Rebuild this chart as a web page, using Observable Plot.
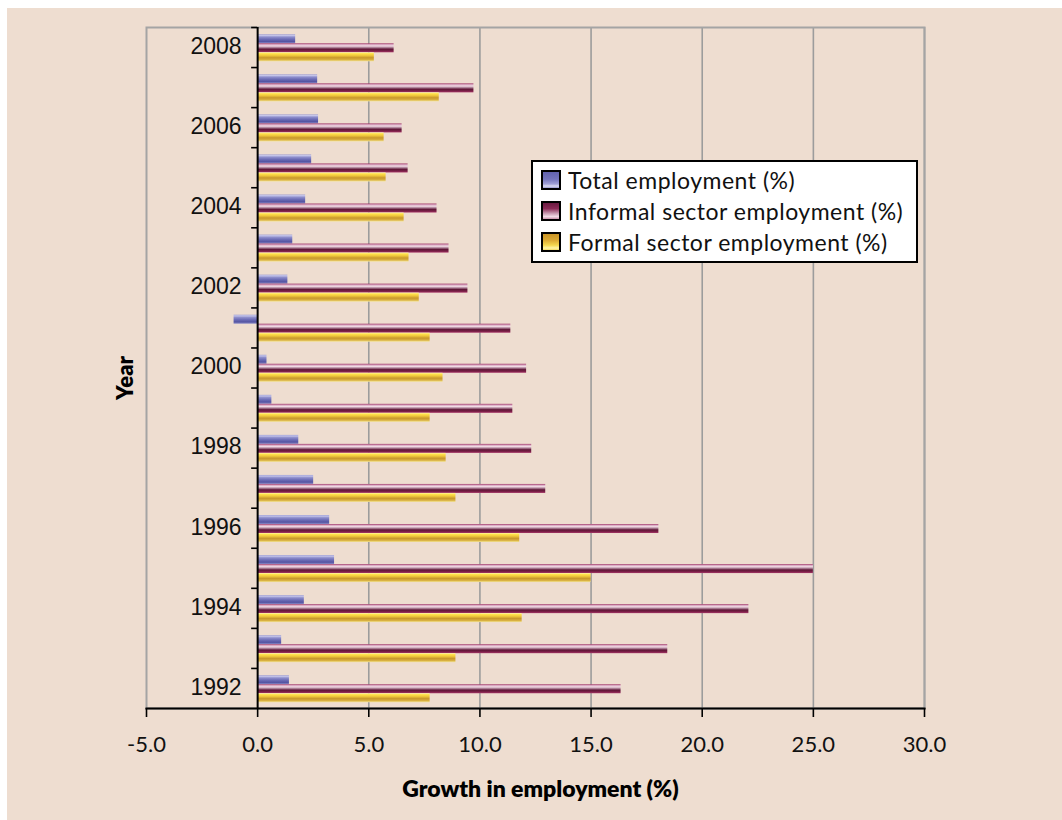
<!DOCTYPE html>
<html>
<head>
<meta charset="utf-8">
<script src="https://cdn.jsdelivr.net/npm/d3@7"></script>
<script src="https://cdn.jsdelivr.net/npm/@observablehq/plot@0.6"></script>
<style>
  body { margin: 0; background: #ffffff; }
  #wrap { position: relative; width: 1062px; height: 820px; overflow: hidden; background: #ffffff; }
  #bg { position: absolute; left: 7px; top: 8px; right: 0; bottom: 0; background: #EEDDD0; }
  #chart { position: absolute; left: 0; top: 0; }
  #legend { position: absolute; left: 531px; top: 160px; width: 383px; height: 99px; background: #ffffff; border: 2px solid #000; }
  .item { position: absolute; left: 8px; height: 26px; display: flex; align-items: center; font-family: Lato, "Open Sans", sans-serif; font-size: 23px; color: #111; letter-spacing: 0.5px; white-space: nowrap; }
  .sw { width: 16px; height: 16px; border: 2px solid #000; margin-right: 7px; flex: none; }
</style>
</head>
<body>
<div id="wrap">
  <div id="bg"></div>
  <div id="chart"></div>
  <div id="legend"></div>
</div>
<script>
// ---- Data ----
const years = [1992, 1993, 1994, 1995, 1996, 1997, 1998, 1999, 2000, 2001, 2002, 2003, 2004, 2005, 2006, 2007, 2008];
const totalEmployment    = [1.43, 1.08, 2.10, 3.46, 3.24, 2.52, 1.85, 0.64, 0.42, -1.06, 1.36, 1.58, 2.16, 2.43, 2.74, 2.70, 1.71];
const informalEmployment = [16.35, 18.45, 22.10, 25.00, 18.05, 12.96, 12.33, 11.48, 12.10, 11.39, 9.46, 8.61, 8.07, 6.77, 6.50, 9.73, 6.14];
const formalEmployment   = [7.76, 8.92, 11.90, 15.00, 11.79, 8.92, 8.48, 7.76, 8.34, 7.76, 7.27, 6.81, 6.59, 5.78, 5.69, 8.17, 5.25];
const seriesNames = ["Total employment (%)", "Informal sector employment (%)", "Formal sector employment (%)"];
const xTicks = [-5, 0, 5, 10, 15, 20, 25, 30];
const xTitle = "Growth in employment (%)";
const yTitle = "Year";

// ---- Build tables ----
const toRows = vals => years.map((yr, i) => ({year: yr, value: vals[i]}));
const totalRows = toRows(totalEmployment);
const informalRows = toRows(informalEmployment);
const formalRows = toRows(formalEmployment);
const labelYears = years.filter(y => y % 2 === 0);
const boundaries = years.map(y => y + 0.5);

const band = 681 / years.length;
function barOpts(top, fillId) {
  return {
    x1: 0, x2: "value",
    y1: d => d.year - 0.5, y2: d => d.year + 0.5,
    insetTop: top, insetBottom: band - top - 9,
    fill: `url(#${fillId})`
  };
}

const svg = Plot.plot({
  width: 1062,
  height: 820,
  marginLeft: 146,
  marginRight: 138,
  marginTop: 27,
  marginBottom: 112,
  style: {background: "transparent", overflow: "visible"},
  x: {domain: [-5, 30], axis: null},
  y: {domain: [years[0] - 0.5, years[years.length - 1] + 0.5], axis: null},
  marks: [
    Plot.gridX(xTicks.filter(t => t > 0), {stroke: "#9c9c9c", strokeOpacity: 1, strokeWidth: 1.6}),
    Plot.frame({stroke: "#a4a4a4", strokeWidth: 2}),
    Plot.rect(totalRows, barOpts(7.3, "g-total")),
    Plot.rect(informalRows, barOpts(16.3, "g-informal")),
    Plot.rect(formalRows, barOpts(25.3, "g-formal")),
    Plot.ruleX([0], {stroke: "#000", strokeWidth: 2}),
    Plot.ruleY(boundaries, {x1: 0, x2: 0, insetLeft: -6, stroke: "#000", strokeWidth: 1.6}),
    Plot.text(labelYears, {x: 0, y: d => d, text: d => String(d), dx: -16, dy: -1, textAnchor: "end", fontSize: 23, fontFamily: "Liberation Sans, Arial, sans-serif", fill: "#111"}),
    Plot.frame({anchor: "bottom", stroke: "#000", strokeWidth: 2}),
    Plot.axisX(xTicks, {tickSize: 9, tickPadding: 19, tickFormat: d => d.toFixed(1), fontSize: 22, fontFamily: "Lato, sans-serif", label: null, stroke: "#000", strokeWidth: 1.6, fill: "#111"}),
    Plot.text([xTitle], {frameAnchor: "bottom", dy: 81, dx: 5, lineAnchor: "middle", textAnchor: "middle", fontWeight: 800, fontSize: 23, fontFamily: "Lato, sans-serif", letterSpacing: 0.4, fill: "#000"}),
    Plot.text([yTitle], {frameAnchor: "left", dx: -21, dy: 10, rotate: -90, textAnchor: "middle", lineAnchor: "middle", fontWeight: 800, fontSize: 22, fontFamily: "Lato, sans-serif", fill: "#000"})
  ]
});

// ---- Gradient fills for the striped 3D-look bars ----
const grads = {
  "g-total": [[0, "#9a9ad2"], [0.12, "#c6c6ea"], [0.3, "#8e8ecc"], [0.55, "#6c6cb6"], [0.8, "#5454a2"], [1, "#8c8cc8"]],
  "g-informal": [[0, "#a03668"], [0.14, "#d8a6c0"], [0.3, "#f2dce6"], [0.45, "#b48aa0"], [0.65, "#5e1636"], [0.85, "#7c2048"], [1, "#a8386a"]],
  "g-formal": [[0, "#fff6a8"], [0.15, "#ffe24a"], [0.35, "#f0c83c"], [0.6, "#c8982c"], [0.82, "#d8b040"], [1, "#f4e496"]]
};
const defs = d3.select(svg).insert("defs", ":first-child");
for (const [id, stops] of Object.entries(grads)) {
  const g = defs.append("linearGradient").attr("id", id).attr("x1", 0).attr("y1", 0).attr("x2", 0).attr("y2", 1);
  for (const [o, c] of stops) g.append("stop").attr("offset", o).attr("stop-color", c);
}
document.getElementById("chart").appendChild(svg);

// ---- Legend ----
const swatchCss = [
  "linear-gradient(to bottom, #6262ae 0%, #7474bc 45%, #a0a0d8 75%, #dcdcf4 88%, #9898d0 100%)",
  "linear-gradient(to bottom, #6a1a40 0%, #8a2a56 35%, #c89ab0 65%, #f2dce6 85%, #c890aa 100%)",
  "linear-gradient(to bottom, #c89426 0%, #dcaa34 40%, #f4d850 70%, #fff6a8 88%, #f0d860 100%)"
];
const legend = document.getElementById("legend");
seriesNames.forEach((name, i) => {
  const row = document.createElement("div");
  row.className = "item";
  row.style.top = (5 + i * 31) + "px";
  const sw = document.createElement("span");
  sw.className = "sw";
  sw.style.background = swatchCss[i];
  const t = document.createElement("span");
  t.textContent = name;
  row.appendChild(sw);
  row.appendChild(t);
  legend.appendChild(row);
});
</script>
</body>
</html>
